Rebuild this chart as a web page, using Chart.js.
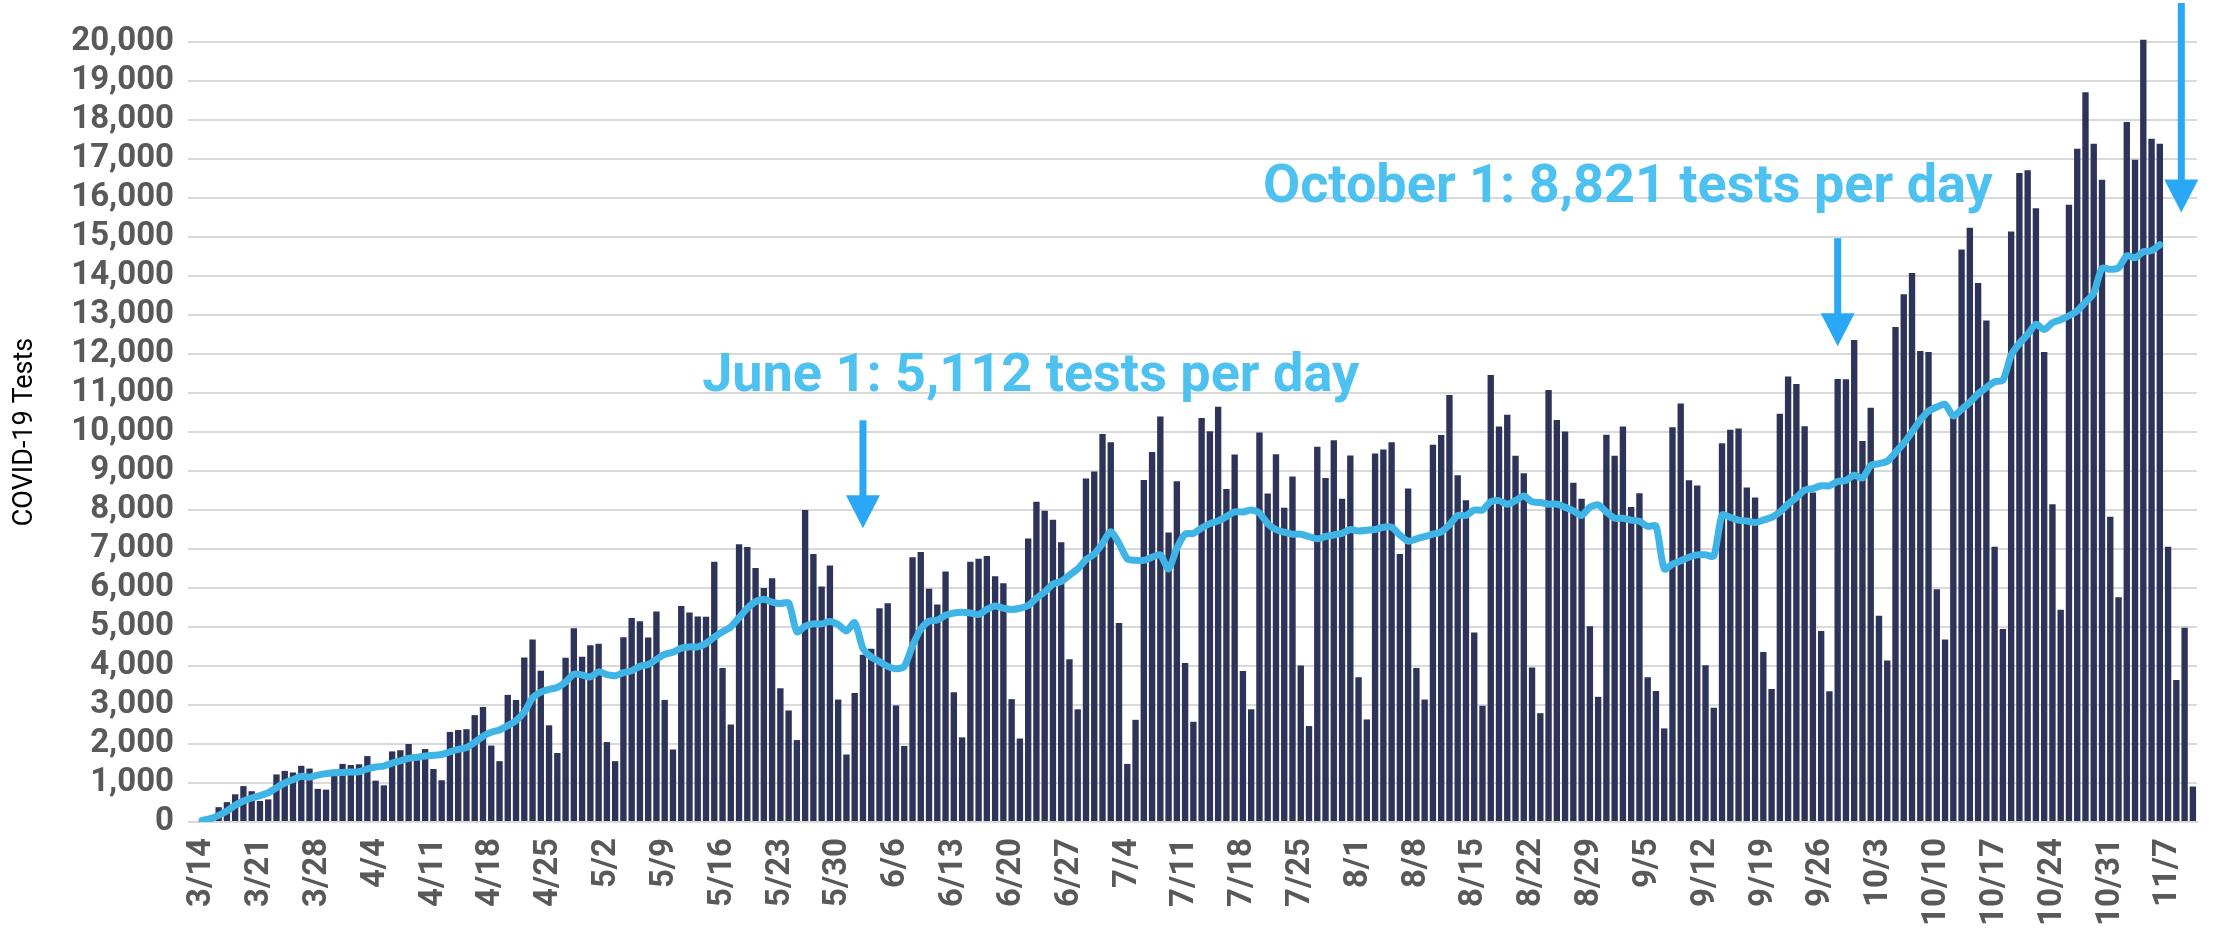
<!DOCTYPE html>
<html><head><meta charset="utf-8">
<script src="https://cdn.jsdelivr.net/npm/chart.js@4.4.1/dist/chart.umd.min.js"></script>
<style>html,body{margin:0;padding:0;background:#fff;}canvas{display:block;}</style>
</head><body>
<canvas id="c" width="2214" height="928"></canvas>
<script>
// Daily categories: 3/14 ... 11/10 (2020)
const firstDay = [2020, 2, 14];
const dayCount = 242;
const categories = [];
for (let i = 0; i < dayCount; i++) {
  const d = new Date(Date.UTC(firstDay[0], firstDay[1], firstDay[2] + i));
  categories.push((d.getUTCMonth() + 1) + '/' + d.getUTCDate());
}
const tickLabels = ['3/14','3/21','3/28','4/4','4/11','4/18','4/25','5/2','5/9','5/16','5/23','5/30',
  '6/6','6/13','6/20','6/27','7/4','7/11','7/18','7/25','8/1','8/8','8/15','8/22','8/29',
  '9/5','9/12','9/19','9/26','10/3','10/10','10/17','10/24','10/31','11/7'];

const dailyTests = [
  60,130,380,510,710,920,790,540,580,1220,1310,1270,1440,1370,850,830,1340,1490,1460,1480,
  1690,1060,940,1810,1840,2000,1700,1870,1360,1070,2310,2360,2380,2740,2950,1960,1560,3260,3130,4220,
  4680,3880,2480,1770,4210,4970,4240,4530,4570,2050,1560,4740,5230,5150,4730,5400,3130,1860,5540,5370,
  5270,5260,6670,3950,2500,7120,7050,6510,6000,6250,3430,2860,2100,8000,6870,6040,6580,3140,1730,3310,
  4290,4440,5480,5610,2990,1950,6790,6920,5980,5580,6420,3330,2170,6670,6750,6820,6300,6120,3150,2140,
  7270,8210,7980,7750,7170,4170,2890,8810,8990,9950,9740,5100,1490,2620,8770,9490,10400,7420,8740,4080,
  2570,10360,10020,10650,8540,9420,3870,2890,9990,8420,9430,8060,8860,4010,2460,9620,8820,9790,8290,9400,
  3710,2630,9450,9550,9740,6870,8550,3950,3140,9670,9920,10950,8890,8250,4860,2980,11460,10140,10440,9390,
  8940,3960,2790,11080,10310,10010,8700,8290,5020,3210,9930,9390,10140,8080,8430,3710,3360,2400,10120,10730,
  8760,8630,4020,2930,9710,10060,10090,8580,8320,4360,3410,10470,11420,11230,10150,8450,4900,3350,11360,11350,
  12360,9770,10620,5290,4140,12690,13530,14080,12080,12050,5970,4680,10450,14680,15240,13820,12860,7060,4950,15140,
  16640,16710,15740,12050,8150,5440,15830,17260,18710,17390,16470,7830,5760,17950,16980,20060,17520,17390,7060,3640,
  4980,910
];

const avg7 = [
  40,85,170,280,430,540,615,675,750,880,1000,1085,1170,1150,1200,1240,1260,1270,1280,1290,
  1360,1410,1435,1510,1570,1630,1660,1690,1710,1730,1800,1860,1910,2040,2200,2300,2360,2470,2600,2820,
  3180,3330,3400,3450,3590,3790,3770,3720,3850,3780,3750,3830,3880,3990,4040,4170,4300,4350,4460,4490,
  4490,4580,4740,4880,5000,5240,5480,5650,5710,5640,5600,5620,4880,5020,5080,5080,5140,5060,4900,5112,
  4450,4230,4110,3990,3930,3990,4520,4940,5150,5180,5300,5360,5380,5360,5320,5450,5540,5480,5450,5480,
  5550,5740,5900,6100,6170,6330,6490,6730,6870,7140,7440,7140,6750,6710,6710,6790,6850,6490,7020,7380,
  7400,7540,7650,7720,7830,7950,7950,8000,7920,7650,7500,7430,7380,7380,7320,7260,7320,7360,7400,7500,
  7460,7480,7500,7560,7560,7360,7200,7260,7320,7380,7440,7620,7860,7860,8000,8000,8210,8240,8150,8240,
  8360,8210,8190,8150,8150,8070,7980,7860,8070,8130,7950,7790,7790,7740,7710,7580,7590,6490,6610,6700,
  6790,6850,6850,6820,7870,7810,7740,7720,7680,7740,7810,7950,8150,8320,8510,8550,8620,8620,8730,8760,
  8890,8821,9140,9190,9250,9480,9710,10000,10300,10530,10640,10710,10410,10580,10760,10980,11140,11290,11330,11970,
  12270,12500,12760,12630,12800,12880,12980,13110,13330,13560,14200,14170,14210,14520,14470,14620,14650,14800,null,null,
  null,null
];

const callouts = [
  {text: 'June 1: 5,112 tests per day', at: 100.3, value: 11040},
  {text: 'October 1: 8,821 tests per day', at: 172.6, value: 15890}
];
const arrows = [
  {at: 80, from: 10300, to: 7530},
  {at: 198, from: 14970, to: 12200},
  {at: 239.6, from: 21000, to: 15630}
];

const annotationPlugin = {
  id: 'callouts',
  afterDatasetsDraw(chart) {
    const {ctx, scales: {x, y}} = chart;
    ctx.save();
    ctx.fillStyle = '#4DC1F0';
    ctx.font = 'bold 54px Roboto';
    ctx.textAlign = 'center';
    ctx.textBaseline = 'alphabetic';
    callouts.forEach(c => ctx.fillText(c.text, x.getPixelForValue(c.at), y.getPixelForValue(c.value)));
    ctx.fillStyle = '#2AA8F6';
    arrows.forEach(a => {
      const px = x.getPixelForValue(a.at);
      const top = y.getPixelForValue(a.from);
      const tip = y.getPixelForValue(a.to);
      const head = 33, half = 17, shaft = 7;
      ctx.fillRect(px - shaft / 2, top, shaft, tip - head - top + 1);
      ctx.beginPath();
      ctx.moveTo(px - half, tip - head);
      ctx.lineTo(px + half, tip - head);
      ctx.lineTo(px, tip);
      ctx.closePath();
      ctx.fill();
    });
    ctx.restore();
  }
};

const tickFont = {family: 'Roboto', size: 33, weight: 'bold'};

new Chart(document.getElementById('c'), {
  type: 'bar',
  data: {
    labels: categories,
    datasets: [
      {type: 'line', data: avg7, borderColor: '#3FB4E6', borderWidth: 7, pointRadius: 0,
       tension: 0.25, order: 0, borderJoinStyle: 'round', borderCapStyle: 'round', spanGaps: false},
      {type: 'bar', data: dailyTests, backgroundColor: '#2E3459', barPercentage: 0.77,
       categoryPercentage: 1.0, order: 1, clip: false}
    ]
  },
  options: {
    responsive: false,
    devicePixelRatio: 1,
    animation: false,
    layout: {padding: {top: 42, right: 17, left: 0, bottom: 0}},
    plugins: {legend: {display: false}, tooltip: {enabled: false}},
    scales: {
      x: {
        offset: true,
        grid: {display: false, drawTicks: false},
        border: {display: true, color: '#D9D9D9', width: 2},
        ticks: {
          autoSkip: false, minRotation: 90, maxRotation: 90, padding: 16,
          color: '#595959', font: tickFont,
          callback: function (v, i) { const l = categories[i]; return tickLabels.includes(l) ? l : ''; }
        },
        afterFit(scale) { scale.height = 106; scale.paddingLeft = 0; scale.paddingRight = 0; }
      },
      y: {
        min: 0, max: 20000,
        grid: {color: '#D9D9D9', lineWidth: 2, drawTicks: true, tickLength: 10},
        border: {display: false},
        ticks: {stepSize: 1000, autoSkip: false, padding: 14, color: '#595959', font: tickFont,
          callback: v => v.toLocaleString('en-US')},
        title: {display: true, text: 'COVID-19 Tests', color: '#000000',
          font: {family: 'Roboto', size: 27}, padding: {top: 9, bottom: 0}},
        afterFit(scale) { scale.width = 198; scale.paddingTop = 0; scale.paddingBottom = 0; }
      }
    }
  },
  plugins: [annotationPlugin]
});
</script>
</body></html>
